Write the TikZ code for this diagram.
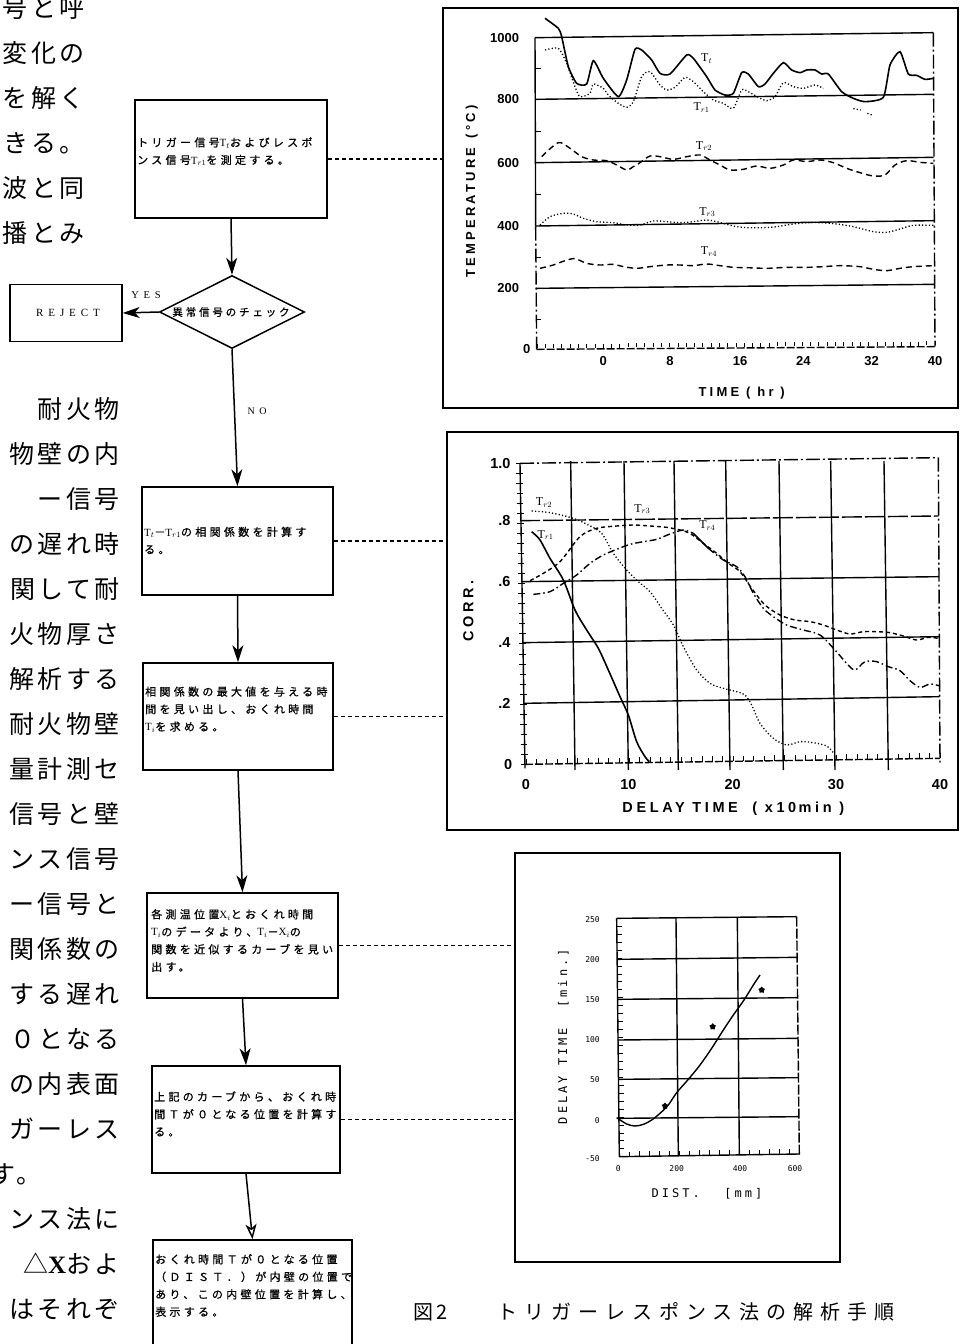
\documentclass[tikz,border=0pt]{standalone}
\usepackage{fontspec}
\setmainfont{Liberation Serif}
\newfontfamily\jp{Noto Sans CJK JP}
\newfontfamily\jpl[LetterSpace=14]{Noto Sans CJK JP}
\newfontfamily\jpb[LetterSpace=30,FakeBold=0.8]{Noto Sans CJK JP}
\newfontfamily\jpd[LetterSpace=27,FakeBold=0.8]{Noto Sans CJK JP}
\newfontfamily\jpc[LetterSpace=35]{Noto Sans CJK JP}
\newfontfamily\hv{Liberation Sans}
\newfontfamily\hvs[LetterSpace=25]{Liberation Sans}
\newfontfamily\mono{DejaVu Sans Mono}
\newfontfamily\monos[LetterSpace=25]{DejaVu Sans Mono}
\newfontfamily\serl[LetterSpace=45]{Liberation Serif}
\usetikzlibrary{arrows.meta,shapes.geometric}
\tikzset{
  fbox/.style={draw, line width=1.5pt, inner sep=0pt},
  btext/.style={anchor=west, align=left, inner sep=0pt, font=\fontsize{11}{17.5}\jpb},
  arr/.style={line width=1.5pt, -{Stealth[length=17pt,width=11pt,inset=5pt]}},
  oarr/.style={line width=1.5pt, -{Stealth[open,length=15pt,width=11pt,inset=4pt]}},
  conn/.style={line width=1.1pt, dash pattern=on 4pt off 3pt},
  gbox/.style={draw, line width=1.3pt, inner sep=0pt},
  gline/.style={line width=1.4pt},
  tk/.style={line width=0.9pt},
  lcol/.style={anchor=east, inner sep=0pt, font=\fontsize{25}{25}\jpl},
  ylab1/.style={anchor=east, inner sep=0pt, font=\fontsize{13}{13}\hv\bfseries},
  xlab1/.style={anchor=center, inner sep=0pt, font=\fontsize{13}{13}\hv\bfseries},
  ylab2/.style={anchor=east, inner sep=0pt, font=\fontsize{14.5}{14.5}\hv\bfseries},
  xlab2/.style={anchor=center, inner sep=0pt, font=\fontsize{14.5}{14.5}\hv\bfseries},
  ylab3/.style={anchor=east, inner sep=0pt, font=\fontsize{8}{8}\mono},
  xlab3/.style={anchor=center, inner sep=0pt, font=\fontsize{8}{8}\mono},
  clab/.style={inner sep=0pt, font=\fontsize{12}{12}\selectfont},
  solidc/.style={line width=1.6pt},
  dotc/.style={line width=1.3pt, dash pattern=on 1.2pt off 2.2pt},
  dashc/.style={line width=1.4pt, dash pattern=on 6pt off 4pt},
  sdashc/.style={line width=1.4pt, dash pattern=on 4pt off 3pt},
  ddotc/.style={line width=1.4pt, dash pattern=on 7pt off 3pt on 1.5pt off 3pt},
}
\begin{document}
\begin{tikzpicture}[x=1pt,y=-1pt]
\useasboundingbox[fill=white] (0,0) rectangle (962,1344);

% ---------------- left text column ----------------
\foreach \yy/\tt in {8/号と呼, 53/変化の, 98/を解く, 143/きる。, 188/波と同, 233/播とみ}
  \node[lcol] at (85,\yy) {\tt};
\foreach \yy/\tt in {409/耐火物, 454/物壁の内, 499/ー信号, 544/の遅れ時, 589/関して耐,
  634/火物厚さ, 679/解析する, 724/耐火物壁, 769/量計測セ, 814/信号と壁, 859/ンス信号,
  904/ー信号と, 949/関係数の, 994/する遅れ, 1039/０となる, 1084/の内表面, 1129/ガーレス,
  1219/ンス法に, 1309/はそれぞ}
  \node[lcol] at (120,\yy) {\tt};
\node[lcol, anchor=west] at (-10,1174) {す。};
\node[lcol] at (120,1264) {△{\rmfamily\bfseries X}およ};

% ---------------- flowchart ----------------
\node[fbox, minimum width=192, minimum height=118] (b1) at (231,159) {};
\node[btext] at (137,151.5) {トリガー信号$\mathrm{T}_t$およびレスポ\\ンス信号$\mathrm{T}_{r1}$を測定する。};

\node[draw, line width=1.5pt, shape=diamond, inner sep=0pt, minimum width=145, minimum height=73] (d) at (232,312) {};
\node[inner sep=0pt, font=\fontsize{10.5}{10.5}\jpd] at (231,312) {異常信号のチェック};

\node[fbox, minimum width=112, minimum height=57] (rej) at (66,313) {};
\node[inner sep=0pt, font=\fontsize{11}{11}\serl] at (68,313) {REJECT};
\node[inner sep=0pt, font=\fontsize{10.5}{10.5}\serl, anchor=center] at (146,295) {YES};
\node[inner sep=0pt, font=\fontsize{10}{10}\serl, anchor=center] at (257,411) {NO};

\node[fbox, minimum width=191, minimum height=108] (b2) at (237.5,541) {};
\node[btext] at (144,540.5) {$\mathrm{T}_t$－$\mathrm{T}_{r1}$の相関係数を計算す\\る。};

\node[fbox, minimum width=190, minimum height=107] (b3) at (238,716.5) {};
\node[btext] at (145,709.5) {相関係数の最大値を与える時\\間を見い出し、おくれ時間\\$\mathrm{T}_i$を求める。};

\node[fbox, minimum width=191, minimum height=105] (b4) at (242.5,945.5) {};
\node[btext] at (151,940.5) {各測温位置$\mathrm{X}_i$とおくれ時間\\$\mathrm{T}_i$のデータより、$\mathrm{T}_i$－$\mathrm{X}_i$の\\関数を近似するカーブを見い\\出す。};

\node[fbox, minimum width=188, minimum height=107] (b5) at (246,1119.5) {};
\node[btext] at (154,1114) {上記のカーブから、おくれ時\\間Ｔが０となる位置を計算す\\る。};

\node[fbox, minimum width=199, minimum height=110] (b6) at (252.5,1295) {};
\node[btext] at (155,1285.5) {おくれ時間Ｔが０となる位置\\（ＤＩＳＴ．）が内壁の位置で\\あり、この内壁位置を計算し、\\表示する。};

\draw[arr] (b1.south) -- (d.north);
\draw[arr] (d.west) -- (rej.east);
\draw[arr] (d.south) -- (b2.north);
\draw[arr] (b2.south) -- (b3.north);
\draw[arr] (b3.south) -- (b4.north);
\draw[arr] (b4.south) -- (b5.north);
\draw[oarr] (b5.south) -- (b6.north);

% ---------------- graph boxes ----------------
\node[gbox, minimum width=515, minimum height=400] (g1) at (700.5,208) {};
\node[gbox, minimum width=511, minimum height=398] (g2) at (702.5,631) {};
\node[gbox, minimum width=325, minimum height=409] (g3) at (677.5,1057.5) {};

\draw[conn] (b1.east) -- (b1.east -| g1.west);
\draw[conn] (b2.east) -- (b2.east -| g2.west);
\draw[conn] (b3.east) -- (b3.east -| g2.west);
\draw[conn] (b4.east) -- (b4.east -| g3.west);
\draw[conn] (b5.east) -- (b5.east -| g3.west);

% ---------------- graph 1 ----------------
\begin{scope}[shift={(440,0)},scale=1/3]
  \draw[gline] (285,113) -- (1480,98);
  \draw[gline] (285,298) -- (1480,283);
  \draw[gline] (286,488) -- (1481,472);
  \draw[gline] (287,678) -- (1482,662);
  \draw[gline] (288,865) -- (1483,853);
  \draw[gline] (285,113) -- (287,680);
  \draw[gline, dash pattern=on 14pt off 3pt on 2pt off 3pt] (287,680) -- (290,1048);
  \draw[gline, dash pattern=on 14pt off 3pt on 2pt off 3pt] (1480,98) -- (1485,1040);
  \draw[gline, dash pattern=on 8pt off 2pt] (290,1048) -- (1485,1040);
  \foreach \t in {-8,...,40} \draw[tk] ({490+24.875*\t},{1043-0.17*\t}) -- ++(0,-12);
  \foreach \yy in {205,395,583,772,958} \draw[tk] (287,\yy) -- ++(16,0);
  \foreach \yy/\v in {113/1000,298/800,488/600,678/400,865/200} \node[ylab1] at (238,\yy) {\v};
  \node[ylab1] at (272,1048) {0};
  \foreach \xx/\v in {490/0,690/8,900/16,1090/24,1295/32,1485/40} \node[xlab1] at (\xx,1082) {\v};
  \node[inner sep=0pt, font=\fontsize{13}{13}\hvs\bfseries] at (905,1178) {TIME ( hr )};
  \node[inner sep=0pt, rotate=90, font=\fontsize{13}{13}\hvs\bfseries] at (95,575) {TEMPERATURE\, (°C)};
  % curves
  \draw[solidc] plot[smooth, tension=0.35] coordinates {(315,55) (355,85) (365,110) (385,200) (410,250) (440,252) (460,182) (490,235) (535,290) (560,240) (585,148) (605,150) (635,180) (660,220) (690,222) (740,165) (760,175) (800,230) (825,270) (855,285) (880,280) (905,218) (925,222) (955,260) (975,252) (1000,220) (1030,188) (1055,210) (1080,218) (1100,210) (1125,210) (1145,222) (1165,222) (1205,275) (1240,295) (1275,305) (1330,292) (1350,195) (1380,155) (1405,222) (1430,226) (1455,238) (1480,235)};
  \draw[dotc] plot[smooth, tension=0.4] coordinates {(315,150) (355,145) (380,190) (405,260) (420,290) (450,280) (460,252) (490,265) (505,285) (535,310) (560,322) (580,305) (605,230) (630,215) (660,255) (680,270) (705,262) (735,232) (760,245) (790,275) (820,300) (850,310) (880,325) (905,270) (925,275) (955,292) (980,302) (1005,290) (1030,248) (1060,260) (1090,265) (1125,255) (1150,265)};
  \draw[dotc] (1240,326) -- (1262,330);
  \draw[dotc] (1282,340) -- (1296,345);
  \draw[dashc] plot[smooth, tension=0.5] coordinates {(305,470) (355,428) (390,445) (425,470) (460,480) (500,482) (530,495) (560,510) (580,500) (600,488) (630,468) (660,470) (700,478) (740,470) (780,465) (810,480) (840,495) (870,510) (910,508) (950,498) (990,505) (1030,495) (1060,480) (1100,485) (1140,480) (1180,488) (1220,505) (1260,518) (1300,528) (1335,525) (1365,495) (1400,482) (1440,487) (1480,490)};
  \draw[dotc] plot[smooth, tension=0.5] coordinates {(300,675) (330,650) (370,640) (400,642) (430,655) (470,665) (520,668) (560,675) (600,675) (640,663) (680,665) (720,668) (760,665) (800,660) (830,665) (880,678) (920,683) (970,683) (1010,680) (1060,672) (1100,668) (1140,668) (1190,672) (1240,680) (1300,695) (1340,697) (1380,687) (1420,676) (1480,676)};
  \draw[dashc] plot[smooth, tension=0.5] coordinates {(300,805) (340,795) (375,782) (405,776) (440,790) (480,795) (520,793) (550,800) (590,805) (630,800) (680,795) (720,795) (760,797) (800,792) (840,797) (880,802) (920,803) (980,805) (1040,802) (1100,802) (1150,800) (1200,797) (1260,800) (1300,808) (1340,812) (1380,805) (1420,800) (1480,797)};
  \node[clab] at (800,175) {$\mathrm{T}_t$};
  \node[clab] at (785,323) {$\mathrm{T}_{r1}$};
  \node[clab] at (792,438) {$\mathrm{T}_{r2}$};
  \node[clab] at (802,636) {$\mathrm{T}_{r3}$};
  \node[clab] at (807,755) {$\mathrm{T}_{r4}$};
\end{scope}

% ---------------- graph 2 ----------------
\begin{scope}[shift={(440,430)},scale=1/3]
  \draw[gline, dash pattern=on 14pt off 3pt on 2pt off 3pt] (240,100) -- (1495,83);
  \draw[gline, dash pattern=on 20pt off 3pt] (240,272) -- (1496,258);
  \draw[gline] (243,455) -- (1497,440);
  \draw[gline] (246,638) -- (1498,620);
  \draw[gline] (250,820) -- (1499,800);
  \draw[gline, dash pattern=on 8pt off 2pt] (255,1003) -- (1500,985);
  \foreach \xb in {405,565,715,870,1030,1185,1345} \draw[gline] (\xb-13,93) -- (\xb,1020);
  \draw[gline, dash pattern=on 14pt off 3pt on 2pt off 3pt] (1495,83) -- (1500,1000);
  \draw[gline] (240,100) -- (255,1015);
  \foreach \k in {0,...,30} \draw[tk] ({228+\k*0.5},{100+\k*30.1}) -- ++(20,0);
  \foreach \d in {0,...,40} \draw[tk] ({258+\d*31.05},{1003-\d*0.45}) -- ++(0,-16);
  \foreach \yy/\v in {100/1.0,272/.8,455/.6,638/.4,820/.2} \node[ylab2] at (212,\yy) {\v};
  \node[ylab2] at (217,1003) {0};
  \foreach \xx/\v in {258/0,565/10,878/20,1188/30,1500/40} \node[xlab2] at (\xx,1065) {\v};
  \node[inner sep=0pt, font=\fontsize{14.5}{14.5}\hvs\bfseries] at (880,1135) {DELAY\ TIME\quad ( x10\,min )};
  \node[inner sep=0pt, rotate=90, font=\fontsize{14.5}{14.5}\hvs\bfseries] at (85,542) {CORR.};
  % curves
  \draw[solidc] plot[smooth, tension=0.5] coordinates {(275,305) (300,330) (330,385) (370,450) (405,540) (440,600) (475,655) (505,720) (540,800) (565,855) (590,935) (615,980) (628,995)};
  \draw[dotc] plot[smooth, tension=0.5] coordinates {(275,243) (330,248) (400,265) (445,285) (485,310) (520,370) (560,420) (595,455) (630,485) (665,535) (700,585) (730,650) (770,720) (810,760) (850,775) (890,785) (915,795) (935,825) (960,880) (1000,925) (1040,945) (1080,935) (1120,938) (1160,948) (1180,968)};
  \draw[sdashc] plot[smooth, tension=0.5] coordinates {(270,452) (310,430) (360,395) (420,320) (470,295) (530,288) (580,285) (630,288) (680,292) (720,300) (750,310) (790,340) (830,370) (865,400) (900,425) (935,475) (975,525) (1020,555) (1065,570) (1110,575) (1150,585) (1190,600) (1230,612) (1270,605) (1310,605) (1350,608) (1390,618) (1430,630) (1465,622) (1495,625)};
  \draw[ddotc] plot[smooth, tension=0.5] coordinates {(280,493) (330,485) (370,460) (410,435) (450,400) (490,375) (530,358) (570,343) (610,335) (650,328) (690,312) (730,300) (760,310)};
  \draw[solidc] (760,310) -- (805,355);
  \draw[ddotc] plot[smooth, tension=0.5] coordinates {(805,355) (850,390) (890,410) (915,440) (940,490) (970,535) (1000,560) (1040,585) (1090,600) (1140,615) (1185,660) (1220,700) (1245,720) (1275,695) (1310,695) (1345,710) (1380,722) (1410,752) (1440,772) (1470,762) (1500,768)};
  \node[clab] at (312,218) {$\mathrm{T}_{r2}$};
  \node[clab] at (317,315) {$\mathrm{T}_{r1}$};
  \node[clab] at (607,237) {$\mathrm{T}_{r3}$};
  \node[clab] at (802,287) {$\mathrm{T}_{r4}$};
\end{scope}

% ---------------- graph 3 ----------------
\begin{scope}[shift={(520,850)},scale=1/3]
  \draw[gline] (290,205) -- (830,200);
  \draw[gline] (290,205) -- (298,920);
  \draw[gline, dash pattern=on 10pt off 2pt] (830,200) -- (838,915);
  \draw[gline] (298,920) -- (838,912);
  \draw[gline] (291,328) -- (832,322);
  \draw[gline] (292,448) -- (833,443);
  \draw[gline] (293,570) -- (834,565);
  \draw[gline] (294,688) -- (835,683);
  \draw[gline] (295,805) -- (836,800);
  \draw[gline] (468,204) -- (475,918);
  \draw[gline] (652,203) -- (658,915);
  \foreach \k in {0,...,30} \draw[tk] ({290+\k*0.27},{205+\k*23.85}) -- ++(15,0);
  \foreach \k in {1,...,17} \draw[tk] ({298+\k*30},{920-\k*0.45}) -- ++(0,-15);
  \foreach \yy/\v in {210/250,330/200,450/150,570/100,690/50,812/0,925/-50} \node[ylab3] at (240,\yy) {\v};
  \foreach \xx/\v in {295/0,470/200,660/400,825/600} \node[xlab3] at (\xx,955) {\v};
  \node[inner sep=0pt, font=\fontsize{12}{12}\monos] at (467,1030) {DIST.};
  \node[inner sep=0pt, font=\fontsize{12}{12}\monos] at (670,1030) {[mm]};
  \node[inner sep=0pt, rotate=90, font=\fontsize{12}{12}\monos] at (130,560) {DELAY TIME\ \ [min.]};
  \draw[line width=1.4pt] plot[smooth, tension=0.5] coordinates {(290,803) (320,822) (345,828) (370,823) (395,810) (420,790) (445,765) (470,728) (505,688) (540,645) (575,595) (610,540) (640,495) (672,450) (700,405) (720,375)};
  \foreach \p in {(435,768),(578,530),(725,420)}
    \node[star, star points=5, fill=black, inner sep=0pt, minimum size=7pt] at \p {};
\end{scope}

% ---------------- caption ----------------
\node[anchor=west, inner sep=0pt, font=\fontsize{20}{20}\jp] at (413,1312) {図\,2};
\node[anchor=west, inner sep=0pt, font=\fontsize{20}{20}\jpc] at (497,1312) {トリガーレスポンス法の解析手順};
\end{tikzpicture}
\end{document}
